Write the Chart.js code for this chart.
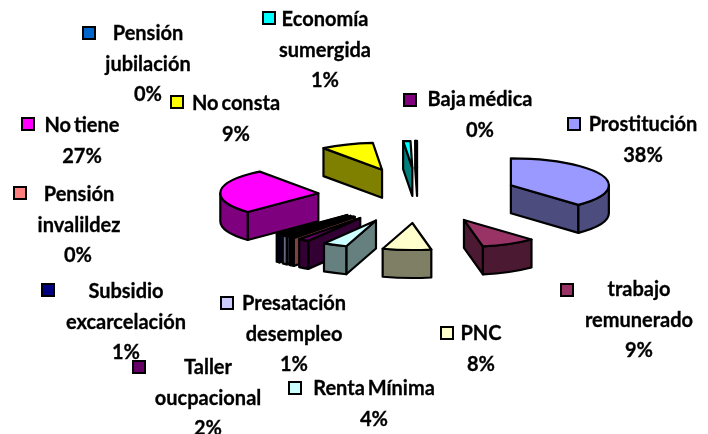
<!DOCTYPE html>
<html><head><meta charset="utf-8">
<style>html,body{margin:0;padding:0;background:#fff}canvas{display:block}</style>
<script src="https://cdn.jsdelivr.net/npm/chart.js@4"></script>
</head><body><canvas id="c" width="708" height="434"></canvas>
<script>
const categories = [
  ["Prostitución"],["trabajo","remunerado"],["PNC"],["Renta Mínima"],["Taller","oucpacional"],
  ["Pensión","invalildez"],["Pensión","jubilación"],["Presatación","desempleo"],["Subsidio","excarcelación"],
  ["No tiene"],["No consta"],["Economía","sumergida"],["Baja médica"]
];
const values = [37.9,9,8,4,1.8,0.4,0.2,0.9,0.6,27,8.7,1.2,0.3];
const colors = ["#9999FF","#993366","#FFFFCC","#CCFFFF","#660066","#FF8080","#0066CC","#CCCCFF","#000080","#FF00FF","#FFFF00","#00FFFF","#800080"];
// label layout, same order as categories: key x, key y, text centre x, first line y, percent centre x
const labelLayout = [
  [574,124,643,125,643],[567,290,639,290,639],[447,333,481,334,481],[295,388,374,389,374],[139,367,208,368,208],
  [20,193,79,195,78],[89,33,148,34,148],[227,303,294,304,294],[48,290,126,292,126],
  [28,124,82,126,82],[177,102,236,104,236],[269,18,325,20,325],[410,100,480,100,480]
];
const RADIUS = 98, OFFSET = 100, SQUASH = 27/98, DEPTH = 28, LINE = 30.3;

function shade(hex){
  const n = parseInt(hex.slice(1),16);
  return `rgb(${(n>>16&255)>>1},${(n>>8&255)>>1},${(n&255)>>1})`;
}
const pie3d = {
  id:'pie3d',
  beforeDatasetsDraw(chart){
    const ctx = chart.ctx, arcs = chart.getDatasetMeta(0).data;
    const items = arcs.map((arc,i)=>{
      const p = arc.getProps(['x','y','startAngle','endAngle','outerRadius'],true);
      const mid = (p.startAngle+p.endAngle)/2, off = arc.options.offset;
      return {i,a0:p.startAngle,a1:p.endAngle,r:p.outerRadius,
        ax:p.x+Math.cos(mid)*off, ay:p.y+Math.sin(mid)*off*SQUASH};
    }).sort((a,b)=>a.ay-b.ay);
    ctx.save();
    ctx.lineWidth = 2.2; ctx.lineJoin = 'round'; ctx.strokeStyle = '#000';
    for(const s of items){
      const rx = s.r, ry = s.r*SQUASH, side = shade(colors[s.i]);
      const pt = t=>[s.ax+Math.cos(t)*rx, s.ay+Math.sin(t)*ry];
      const wall = t=>{
        const [x,y]=pt(t);
        ctx.beginPath();ctx.moveTo(s.ax,s.ay);ctx.lineTo(x,y);ctx.lineTo(x,y+DEPTH);ctx.lineTo(s.ax,s.ay+DEPTH);ctx.closePath();
        ctx.fillStyle=side;ctx.fill();ctx.stroke();
      };
      if(Math.sin(s.a0-Math.PI/2)>0) wall(s.a0);
      if(Math.sin(s.a1+Math.PI/2)>0) wall(s.a1);
      // outer rim: front-facing part of the arc only
      const ranges = [[0,Math.PI],[2*Math.PI,3*Math.PI]];
      for(const [lo,hi] of ranges){
        const b0=Math.max(s.a0,lo), b1=Math.min(s.a1,hi);
        if(b1>b0){
          ctx.beginPath();
          ctx.ellipse(s.ax,s.ay,rx,ry,0,b0,b1);
          ctx.ellipse(s.ax,s.ay+DEPTH,rx,ry,0,b1,b0,true);
          ctx.closePath();
          ctx.fillStyle=side;ctx.fill();ctx.stroke();
        }
      }
      ctx.beginPath();ctx.moveTo(s.ax,s.ay);
      ctx.ellipse(s.ax,s.ay,rx,ry,0,s.a0,s.a1);ctx.closePath();
      ctx.fillStyle=colors[s.i];ctx.fill();ctx.stroke();
    }
    ctx.restore();
    return false;
  },
  afterDraw(chart){
    const ctx = chart.ctx, total = values.reduce((a,b)=>a+b,0);
    ctx.save();
    ctx.font = 'bold 20px Lato'; ctx.textAlign='center'; ctx.textBaseline='middle';
    ctx.wordSpacing = '-2px';
    categories.forEach((lines,i)=>{
      const [kx,ky,tx,ty,px]=labelLayout[i];
      ctx.fillStyle=colors[i];ctx.strokeStyle='#000';ctx.lineWidth=2;
      ctx.fillRect(kx-6,ky-6,12,12);ctx.strokeRect(kx-6,ky-6,12,12);
      ctx.fillStyle='#000';ctx.strokeStyle='#000';ctx.lineWidth=0.3;
      lines.forEach((t,j)=>{ctx.fillText(t,tx,ty+j*LINE);ctx.strokeText(t,tx,ty+j*LINE);});
      const pct = Math.round(values[i]/total*100)+'%', py = ty+lines.length*LINE;
      ctx.fillText(pct,px,py);ctx.strokeText(pct,px,py);
    });
    ctx.restore();
  }
};
new Chart(document.getElementById('c'),{
  type:'pie',
  data:{labels:categories.map(l=>l.join(' ')),datasets:[{data:values,backgroundColor:colors,offset:OFFSET,borderWidth:0}]},
  options:{
    responsive:false,animation:false,radius:RADIUS,
    layout:{padding:{left:128,bottom:43}},
    plugins:{legend:{display:false},tooltip:{enabled:false}}
  },
  plugins:[pie3d]
});
</script></body></html>
